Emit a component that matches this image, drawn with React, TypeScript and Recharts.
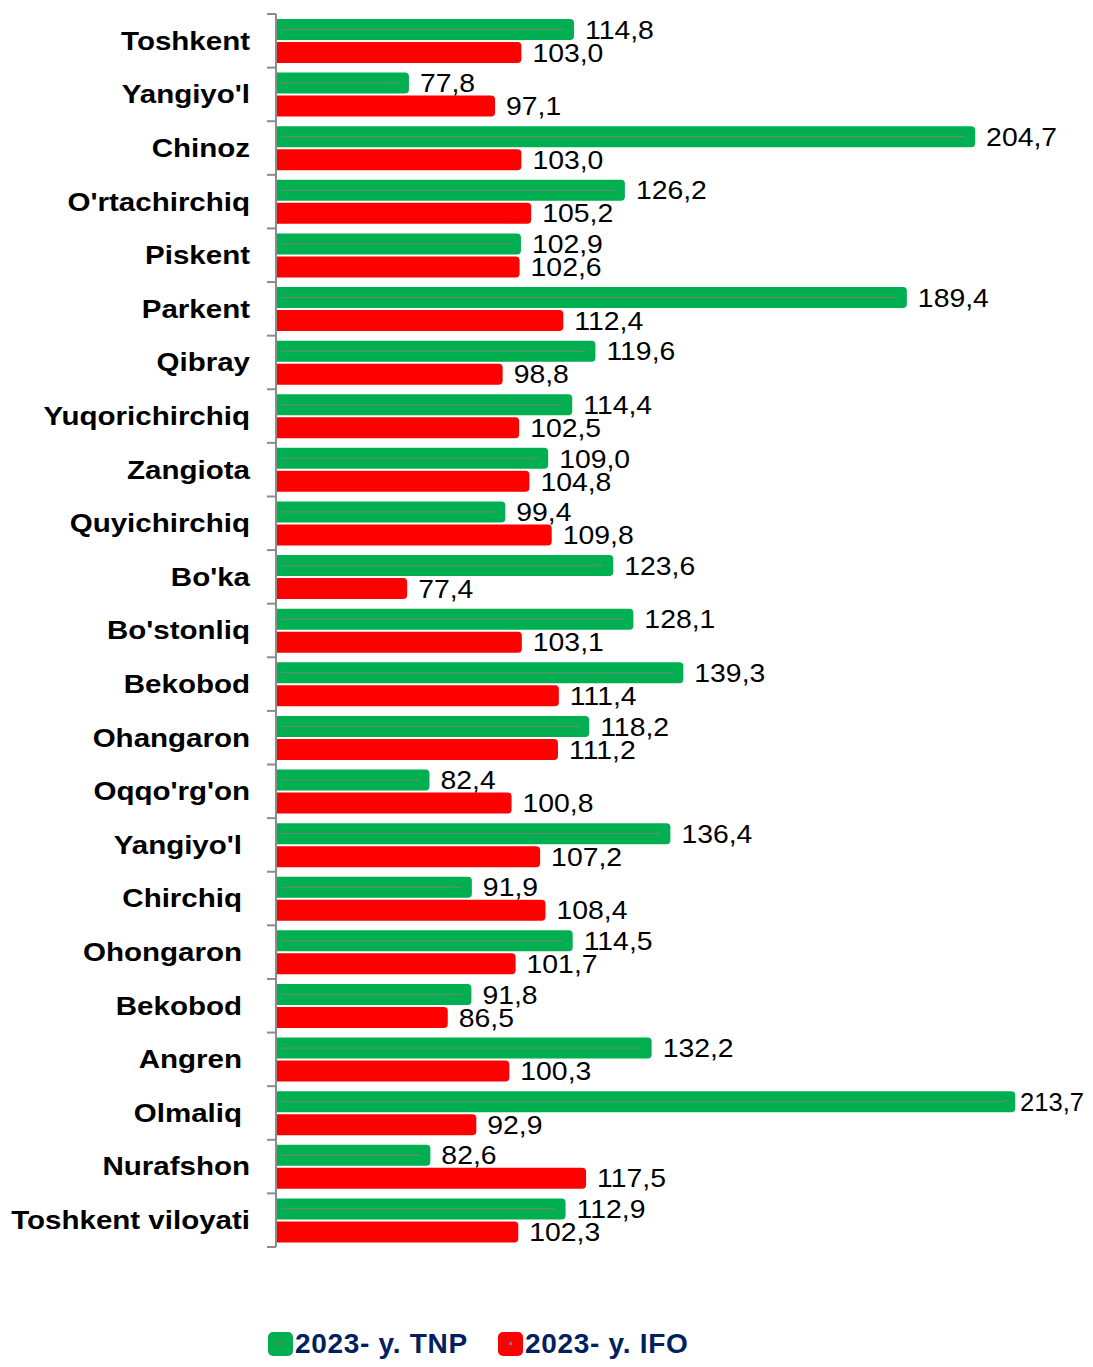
import { BarChart, Bar, XAxis, YAxis, LabelList } from "recharts";

const regions = [
  "Toshkent", "Yangiyo'l", "Chinoz", "O'rtachirchiq", "Piskent", "Parkent", "Qibray",
  "Yuqorichirchiq", "Zangiota", "Quyichirchiq", "Bo'ka", "Bo'stonliq", "Bekobod", "Ohangaron",
  "Oqqo'rg'on", "Yangiyo'l", "Chirchiq", "Ohongaron", "Bekobod", "Angren", "Olmaliq",
  "Nurafshon", "Toshkent viloyati",
];
const tnp = [
  114.8, 77.8, 204.7, 126.2, 102.9, 189.4, 119.6, 114.4, 109.0, 99.4, 123.6, 128.1,
  139.3, 118.2, 82.4, 136.4, 91.9, 114.5, 91.8, 132.2, 213.7, 82.6, 112.9,
];
const ifo = [
  103.0, 97.1, 103.0, 105.2, 102.6, 112.4, 98.8, 102.5, 104.8, 109.8, 77.4, 103.1,
  111.4, 111.2, 100.8, 107.2, 108.4, 101.7, 86.5, 100.3, 92.9, 117.5, 102.3,
];
const seriesNames = ["2023- y. TNP", "2023- y. IFO"];

const data = regions.map((name, i) => ({ name, tnp: tnp[i], ifo: ifo[i] }));

const GREEN = "#00B050";
const RED = "#FF0000";
const FONT = "'Liberation Sans', Arial, sans-serif";
const PAGE_W = 1093;
const PAGE_H = 1367;
const CHART_H = 1300;
const AXIS_X = 276;
const TOP = 14;
const BOTTOM = 1247;
const BAND = (BOTTOM - TOP) / regions.length;
const VALUE_SIZE = 26.5;
const VALUE_STRETCH = 1.07;
const LABEL_LIMIT = 1084;

const fmt = (v: number) => v.toFixed(1).replace(".", ",");

function roundedRight(x: number, y: number, w: number, h: number, r: number) {
  const rr = Math.min(r, w / 2, h / 2);
  return `M${x},${y} H${x + w - rr} Q${x + w},${y} ${x + w},${y + rr} V${y + h - rr} Q${x + w},${y + h} ${x + w - rr},${y + h} H${x} Z`;
}

function GreenBar(props: any) {
  const { x, y, width, height } = props;
  if (width <= 0) return null;
  const cy = y + height / 2;
  return (
    <g>
      <path d={roundedRight(x, y, width, height, 4)} fill={GREEN} />
      <line x1={x + 5} x2={x + width - 10} y1={cy} y2={cy} stroke="#808070" strokeWidth={1} />
    </g>
  );
}

function RedBar(props: any) {
  const { x, y, width, height } = props;
  if (width <= 0) return null;
  return <path d={roundedRight(x, y, width, height, 4)} fill={RED} />;
}

function ValueLabel(props: any) {
  const { x, y, width, height, value } = props;
  const text = fmt(value);
  const estW = text.length * 0.5 * VALUE_SIZE * VALUE_STRETCH;
  let tx = x + width + 11;
  let anchor: "start" | "end" = "start";
  let stretch = VALUE_STRETCH;
  if (tx + estW > LABEL_LIMIT) {
    // squeeze the label between bar end and the page edge
    const room = LABEL_LIMIT - (x + width + 6);
    stretch = Math.max(0.85, (VALUE_STRETCH * room) / (estW * 0.98));
    tx = LABEL_LIMIT;
    anchor = "end";
  }
  return (
    <text
      transform={`translate(${tx},${y + height / 2}) scale(${stretch},1)`}
      textAnchor={anchor}
      dominantBaseline="central"
      fontFamily={FONT}
      fontSize={VALUE_SIZE}
      fill="#000"
    >
      {text}
    </text>
  );
}

function CategoryTick(props: any) {
  const { y, payload, index } = props;
  const i = payload?.index ?? index;
  const shifted = i >= 15 && i <= 20;
  const top = y - BAND / 2;
  const tx = shifted ? AXIS_X - 34 : AXIS_X - 26;
  return (
    <g>
      <line x1={AXIS_X - 9} x2={AXIS_X} y1={top} y2={top} stroke="#8c8c8c" strokeWidth={2} />
      {i === regions.length - 1 && (
        <line x1={AXIS_X - 9} x2={AXIS_X} y1={y + BAND / 2} y2={y + BAND / 2} stroke="#8c8c8c" strokeWidth={2} />
      )}
      <text
        transform={`translate(${tx},${y}) scale(1.135,1)`}
        textAnchor="end"
        dominantBaseline="central"
        fontFamily={FONT}
        fontWeight="bold"
        fontSize={26}
        fill="#000"
      >
        {payload.value}
      </text>
    </g>
  );
}

function LegendItem({ color, dot, label, left }: { color: string; dot: string; label: string; left: number }) {
  return (
    <div style={{ position: "absolute", left, top: 1332, display: "flex", alignItems: "center" }}>
      <div
        style={{
          width: 25,
          height: 24,
          borderRadius: 5,
          background: color,
          position: "relative",
          marginRight: 2,
        }}
      >
        <div style={{ position: "absolute", left: 11, top: 10, width: 3, height: 3, background: dot }} />
      </div>
      <span
        style={{
          fontFamily: FONT,
          fontWeight: "bold",
          fontSize: 28,
          letterSpacing: 0.7,
          color: "#002060",
          lineHeight: "24px",
          whiteSpace: "nowrap",
        }}
      >
        {label}
      </span>
    </div>
  );
}

export default function App() {
  return (
    <div
      style={{
        position: "relative",
        margin: -8,
        width: PAGE_W,
        height: PAGE_H,
        background: "#fff",
        overflow: "hidden",
      }}
    >
      <BarChart
        width={PAGE_W}
        height={CHART_H}
        data={data}
        layout="vertical"
        margin={{ top: TOP, right: 5, left: 0, bottom: CHART_H - BOTTOM }}
        barSize={21}
        barGap={2}
      >
        <XAxis type="number" domain={[48, 230]} hide />
        <YAxis
          type="category"
          dataKey="name"
          width={AXIS_X}
          tickLine={false}
          axisLine={{ stroke: "#8c8c8c", strokeWidth: 2 }}
          tick={<CategoryTick />}
          interval={0}
          allowDuplicatedCategory
        />
        <Bar dataKey="tnp" name={seriesNames[0]} fill={GREEN} shape={<GreenBar />} isAnimationActive={false}>
          <LabelList dataKey="tnp" content={<ValueLabel />} />
        </Bar>
        <Bar dataKey="ifo" name={seriesNames[1]} fill={RED} shape={<RedBar />} isAnimationActive={false}>
          <LabelList dataKey="ifo" content={<ValueLabel />} />
        </Bar>
      </BarChart>
      <LegendItem left={268} color={GREEN} dot="#c0504d" label={seriesNames[0]} />
      <LegendItem left={498} color={RED} dot="#4f81bd" label={seriesNames[1]} />
    </div>
  );
}
